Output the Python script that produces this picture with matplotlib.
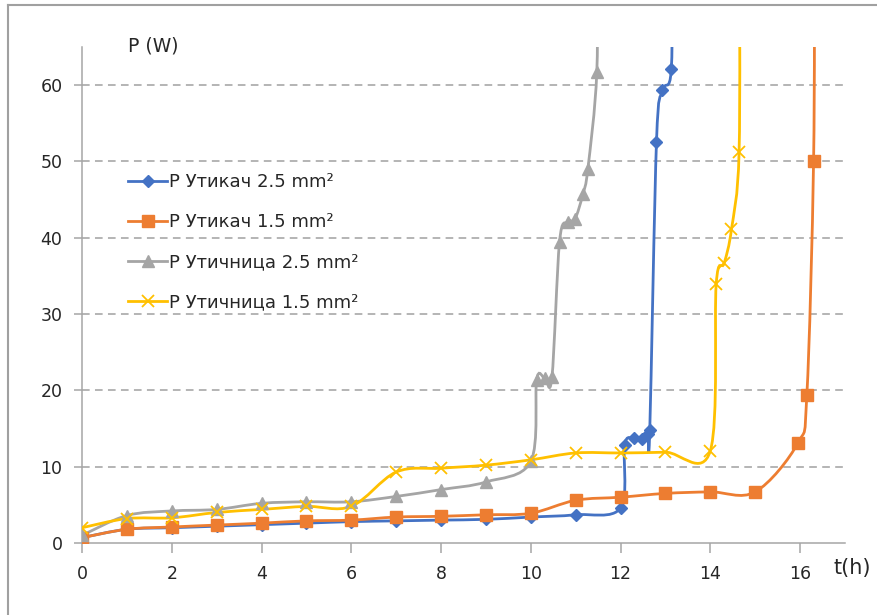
import numpy as np
import matplotlib.pyplot as plt
from matplotlib.path import Path
from matplotlib.patches import PathPatch
from matplotlib.lines import Line2D

plt.rcParams['font.family'] = ['DejaVu Sans']

# data (t in hours, P in W)
t_blue_25 = [0, 1, 2, 3, 4, 5, 6, 7, 8, 9, 10, 11, 12, 12.09, 12.3, 12.47, 12.6, 12.65, 12.8, 12.93, 13.13, 13.15]
p_blue_25 = [0.7, 1.8, 2.0, 2.2, 2.4, 2.6, 2.8, 2.9, 3.0, 3.1, 3.4, 3.7, 4.6, 12.9, 13.7, 13.6, 14.3, 14.8, 52.6, 59.3, 62.1, 80]

t_orange_15 = [0, 1, 2, 3, 4, 5, 6, 7, 8, 9, 10, 11, 12, 13, 14, 15, 15.95, 16.15, 16.3, 16.32]
p_orange_15 = [0.7, 1.8, 2.1, 2.35, 2.6, 2.9, 3.0, 3.4, 3.5, 3.7, 3.9, 5.6, 6.0, 6.5, 6.7, 6.7, 13.1, 19.4, 50.1, 80]

t_gray_25 = [0, 1, 2, 3, 4, 5, 6, 7, 8, 9, 10, 10.13, 10.31, 10.47, 10.64, 10.82, 10.98, 11.16, 11.27, 11.47, 11.48]
p_gray_25 = [1.0, 3.6, 4.2, 4.4, 5.2, 5.4, 5.4, 6.1, 7.0, 8.0, 10.7, 21.4, 21.6, 21.7, 39.5, 42.1, 42.4, 45.7, 49.0, 61.7, 80]

t_yellow_15 = [0, 1, 2, 3, 4, 5, 6, 7, 8, 9, 10, 11, 12, 13, 14, 14.13, 14.31, 14.47, 14.64, 14.65]
p_yellow_15 = [2.0, 3.2, 3.3, 4.0, 4.4, 4.8, 4.8, 9.3, 9.8, 10.2, 10.9, 11.8, 11.8, 11.9, 12.1, 33.9, 36.7, 41.1, 51.2, 80]

labels = ['P Утикач 2.5 mm²', 'P Утикач 1.5 mm²', 'P Утичница 2.5 mm²', 'P Утичница 1.5 mm²']
colors = ['#4472C4', '#ED7D31', '#A5A5A5', '#FFC000']
markers = ['D', 's', '^', 'x']
msizes = [6, 9, 8, 9]


def smooth_path(x, y, k=1 / 6):
    # Excel-like smoothed line: cubic Bezier segments (Catmull-Rom control points)
    p = np.column_stack([x, y]).astype(float)
    ext = np.vstack([p[0], p, p[-1]])
    verts = [p[0]]
    codes = [Path.MOVETO]
    for i in range(len(p) - 1):
        a, b, c, d = ext[i], ext[i + 1], ext[i + 2], ext[i + 3]
        verts += [b + (c - a) * k, c - (d - b) * k, c]
        codes += [Path.CURVE4] * 3
    return Path(verts, codes)


fig = plt.figure(figsize=(8.78, 6.15), dpi=100)
ax = fig.add_axes([82 / 878, 72 / 615, 763 / 878, 496 / 615])

series = [(t_blue_25, p_blue_25), (t_orange_15, p_orange_15),
          (t_gray_25, p_gray_25), (t_yellow_15, p_yellow_15)]
handles = []
for (x, y), c, m, ms, lab in zip(series, colors, markers, msizes, labels):
    ax.add_patch(PathPatch(smooth_path(x, y), facecolor='none', edgecolor=c, lw=2.0, zorder=3))
    mew = 1.3 if m == 'x' else 1
    ax.plot(x, y, ls='none', marker=m, ms=ms, color=c, mew=mew, zorder=4)
    handles.append(Line2D([], [], color=c, lw=2.0, marker=m, ms=ms, mew=mew))

ax.set_xlim(0, 17)
ax.set_ylim(0, 65)
ax.set_xticks(range(0, 17, 2))
ax.set_yticks(range(0, 61, 10))

# dashed grid
for yv in range(10, 61, 10):
    ax.axhline(yv, color='#A0A0A0', lw=1.1, ls=(0, (5, 3.5)), zorder=1)

for s in ['top', 'right']:
    ax.spines[s].set_visible(False)
for s in ['left', 'bottom']:
    ax.spines[s].set_color('#A6A6A6')
    ax.spines[s].set_linewidth(1.1)
ax.tick_params(axis='y', length=6, width=1.1, color='#A6A6A6', pad=8, labelsize=12.5, labelcolor='#262626')
ax.tick_params(axis='x', length=7, width=1.1, color='#A6A6A6', pad=9, labelsize=12.5, labelcolor='#262626')

fig.text(128 / 878, 1 - 46 / 615, 'P (W)', fontsize=13.5, color='#262626', va='center', ha='left')
fig.text(834 / 878, 1 - 568 / 615, 't(h)', fontsize=15, color='#262626', va='center', ha='left')

ax.legend(handles, labels, loc='upper left', bbox_to_anchor=(112 / 878, 1 - 157 / 615),
          bbox_transform=fig.transFigure, frameon=False, fontsize=13,
          handlelength=2.15, handletextpad=0.12, labelspacing=1.22, labelcolor='#262626')

# outer chart border (top and left edges visible)
fig.add_artist(Line2D([8 / 878, 1], [1 - 5 / 615, 1 - 5 / 615], color='#A0A0A0', lw=1.5))
fig.add_artist(Line2D([8 / 878, 8 / 878], [0, 1 - 5 / 615], color='#A0A0A0', lw=1.5))

fig.savefig('out.png', dpi=100)
